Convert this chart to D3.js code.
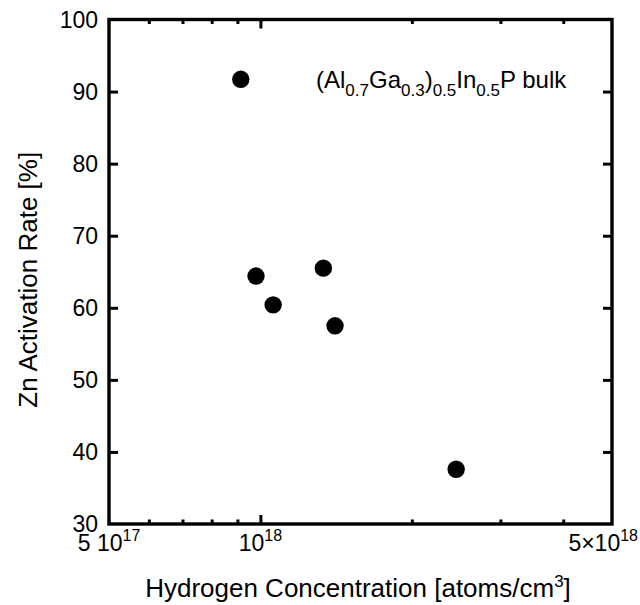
<!DOCTYPE html>
<html>
<head>
<meta charset="utf-8">
<script src="https://cdn.jsdelivr.net/npm/d3@7"></script>
<style>
  body { margin: 0; background: #fff; }
  text { font-family: "Liberation Sans", Arial, sans-serif; fill: #000; }
</style>
</head>
<body>
<script>
// data
var hydrogen = [9.14e17, 9.8e17, 1.06e18, 1.334e18, 1.407e18, 2.45e18]
var activation = [91.7, 64.4, 60.4, 65.5, 57.5, 37.6]

var yTicks = [30, 40, 50, 60, 70, 80, 90, 100]
var xMajor = [5e17, 1e18, 5e18]
var xMinor = [6e17, 7e17, 8e17, 9e17, 2e18, 3e18, 4e18]

const width = 640
const height = 605
const plotL = 109, plotR = 612, plotT = 19.5, plotB = 524

let svg = d3.select('body')
  .append('svg')
  .attr('width', width)
  .attr('height', height)

var x = d3.scaleLog()
  .domain([5e17, 5e18])
  .range([plotL, plotR])

var y = d3.scaleLinear()
  .domain([30, 100])
  .range([plotB, plotT])

// ticks point inward on all four sides
function tickAxis(axisFn, scale, vals, size) {
  return axisFn(scale).tickValues(vals).tickSize(size).tickFormat('')
}

svg.append('g')
  .attr('transform', 'translate(0,' + plotB + ')')
  .call(tickAxis(d3.axisTop, x, [1e18], 9))
svg.append('g')
  .attr('transform', 'translate(0,' + plotB + ')')
  .call(tickAxis(d3.axisTop, x, xMinor, 4.5))
svg.append('g')
  .attr('transform', 'translate(0,' + plotT + ')')
  .call(tickAxis(d3.axisBottom, x, [1e18], 9))
svg.append('g')
  .attr('transform', 'translate(0,' + plotT + ')')
  .call(tickAxis(d3.axisBottom, x, xMinor, 4.5))
svg.append('g')
  .attr('transform', 'translate(' + plotL + ',0)')
  .call(tickAxis(d3.axisRight, y, yTicks.slice(1, -1), 9))
svg.append('g')
  .attr('transform', 'translate(' + plotR + ',0)')
  .call(tickAxis(d3.axisLeft, y, yTicks.slice(1, -1), 9))

svg.selectAll('.domain').remove()
svg.selectAll('.tick line').attr('stroke', '#000').attr('stroke-width', 3)

svg.append('rect')
  .attr('x', plotL)
  .attr('y', plotT)
  .attr('width', plotR - plotL)
  .attr('height', plotB - plotT)
  .attr('fill', 'none')
  .attr('stroke', '#000')
  .attr('stroke-width', 3.4)

// y tick labels
svg.selectAll('.ylab')
  .data(yTicks)
  .enter()
  .append('text')
  .attr('class', 'ylab')
  .attr('x', plotL - 11)
  .attr('y', d => y(d) + 8)
  .attr('text-anchor', 'end')
  .attr('font-size', 23)
  .text(d => d)

// x tick labels with superscript exponents
var xLabels = [
  {v: xMajor[0], pre: '5 10', exp: '17', anchor: 'middle', dx: 0},
  {v: xMajor[1], pre: '10', exp: '18', anchor: 'middle', dx: 0},
  {v: xMajor[2], pre: '5\u00d710', exp: '18', anchor: 'end', dx: 26}
]
xLabels.forEach(d => {
  var t = svg.append('text')
    .attr('x', x(d.v) + d.dx)
    .attr('y', 551)
    .attr('text-anchor', d.anchor)
    .attr('font-size', 23)
  t.append('tspan').text(d.pre)
  t.append('tspan').attr('dy', -10).attr('font-size', 16).text(d.exp)
})

// axis titles
var xt = svg.append('text')
  .attr('x', 358)
  .attr('y', 597)
  .attr('text-anchor', 'middle')
  .attr('font-size', 26)
xt.append('tspan').text('Hydrogen Concentration [atoms/cm')
xt.append('tspan').attr('dy', -10).attr('font-size', 17).text('3')
xt.append('tspan').attr('dy', 10).text(']')

svg.append('text')
  .attr('transform', 'translate(37,' + ((plotT + plotB) / 2 + 8) + ') rotate(-90)')
  .attr('text-anchor', 'middle')
  .attr('font-size', 26)
  .text('Zn Activation Rate [%]')

// sample label
var parts = [['(Al', ''], ['0.7', 's'], ['Ga', ''], ['0.3', 's'], [')', ''], ['0.5', 's'],
             ['In', ''], ['0.5', 's'], ['P bulk', '']]
var ann = svg.append('text')
  .attr('x', 316)
  .attr('y', 88)
  .attr('font-size', 24)
var prevSub = false
parts.forEach(p => {
  var isSub = p[1] == 's'
  var shift = isSub && !prevSub ? 8 : (!isSub && prevSub ? -8 : 0)
  ann.append('tspan')
    .attr('dy', shift)
    .attr('font-size', isSub ? 17 : 24)
    .text(p[0])
  prevSub = isSub
})

// points
svg.selectAll('.pt')
  .data(hydrogen)
  .enter()
  .append('circle')
  .attr('class', 'pt')
  .attr('cx', d => x(d))
  .attr('cy', (d, i) => y(activation[i]))
  .attr('r', 8.7)
  .attr('fill', '#000')
</script>
</body>
</html>
